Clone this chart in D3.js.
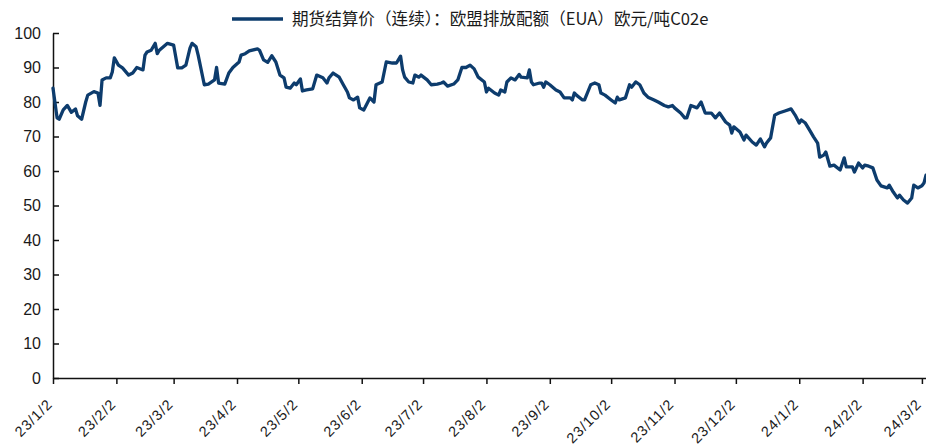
<!DOCTYPE html>
<html>
<head>
<meta charset="utf-8">
<script src="https://cdn.jsdelivr.net/npm/d3@7/dist/d3.min.js"></script>
<style>
    body { margin: 0; background: #fff; }
    svg { display: block; }
</style>
</head>
<body>
<div class="chart-container"></div>
<script>
// EUA futures settlement price (continuous), EUR / t CO2e

const seriesName = "期货结算价（连续）：欧盟排放配额（EUA）欧元/吨C02e";

const tickLabels = ["23/1/2", "23/2/2", "23/3/2", "23/4/2", "23/5/2", "23/6/2", "23/7/2",
    "23/8/2", "23/9/2", "23/10/2", "23/11/2", "23/12/2", "24/1/2", "24/2/2", "24/3/2"];

const yTicks = [0, 10, 20, 30, 40, 50, 60, 70, 80, 90, 100];

const dates = [
    "2023-01-02", "2023-01-04", "2023-01-05", "2023-01-07", "2023-01-09", "2023-01-11", "2023-01-13",
    "2023-01-14", "2023-01-16", "2023-01-18", "2023-01-19", "2023-01-22", "2023-01-24", "2023-01-25",
    "2023-01-26", "2023-01-28", "2023-01-30", "2023-01-31", "2023-02-01", "2023-02-03", "2023-02-05",
    "2023-02-08", "2023-02-10", "2023-02-12", "2023-02-15", "2023-02-16", "2023-02-17", "2023-02-19",
    "2023-02-21", "2023-02-22", "2023-02-23", "2023-02-26", "2023-02-27", "2023-03-02", "2023-03-04",
    "2023-03-06", "2023-03-08", "2023-03-10", "2023-03-11", "2023-03-13", "2023-03-14", "2023-03-17",
    "2023-03-19", "2023-03-22", "2023-03-23", "2023-03-24", "2023-03-27", "2023-03-29", "2023-03-31",
    "2023-04-03", "2023-04-04", "2023-04-06", "2023-04-08", "2023-04-12", "2023-04-13", "2023-04-15",
    "2023-04-17", "2023-04-19", "2023-04-21", "2023-04-23", "2023-04-25", "2023-04-26", "2023-04-28",
    "2023-04-30", "2023-05-01", "2023-05-03", "2023-05-04", "2023-05-06", "2023-05-09", "2023-05-11",
    "2023-05-14", "2023-05-16", "2023-05-17", "2023-05-19", "2023-05-22", "2023-05-24", "2023-05-26",
    "2023-05-27", "2023-05-29", "2023-05-31", "2023-06-01", "2023-06-03", "2023-06-05", "2023-06-06",
    "2023-06-08", "2023-06-09", "2023-06-12", "2023-06-14", "2023-06-17", "2023-06-19", "2023-06-21",
    "2023-06-22", "2023-06-23", "2023-06-25", "2023-06-27", "2023-06-28", "2023-06-30", "2023-07-01",
    "2023-07-04", "2023-07-06", "2023-07-09", "2023-07-11", "2023-07-12", "2023-07-14", "2023-07-17",
    "2023-07-19", "2023-07-21", "2023-07-23", "2023-07-25", "2023-07-27", "2023-07-29", "2023-08-01",
    "2023-08-02", "2023-08-03", "2023-08-06", "2023-08-08", "2023-08-09", "2023-08-11", "2023-08-12",
    "2023-08-14", "2023-08-16", "2023-08-18", "2023-08-19", "2023-08-22", "2023-08-23", "2023-08-24",
    "2023-08-25", "2023-08-28", "2023-08-29", "2023-08-30", "2023-08-31", "2023-09-02", "2023-09-05",
    "2023-09-07", "2023-09-09", "2023-09-12", "2023-09-13", "2023-09-14", "2023-09-15", "2023-09-18",
    "2023-09-19", "2023-09-22", "2023-09-24", "2023-09-26", "2023-09-27", "2023-09-29", "2023-10-02",
    "2023-10-04", "2023-10-05", "2023-10-06", "2023-10-09", "2023-10-11", "2023-10-12", "2023-10-14",
    "2023-10-16", "2023-10-18", "2023-10-20", "2023-10-23", "2023-10-25", "2023-10-28", "2023-10-30",
    "2023-11-01", "2023-11-02", "2023-11-05", "2023-11-07", "2023-11-08", "2023-11-10", "2023-11-13",
    "2023-11-15", "2023-11-17", "2023-11-20", "2023-11-22", "2023-11-24", "2023-11-27", "2023-11-29",
    "2023-11-30", "2023-12-01", "2023-12-04", "2023-12-06", "2023-12-07", "2023-12-10", "2023-12-12",
    "2023-12-14", "2023-12-16", "2023-12-17", "2023-12-19", "2023-12-21", "2023-12-23", "2023-12-26",
    "2023-12-29", "2023-12-31", "2024-01-02", "2024-01-03", "2024-01-05", "2024-01-07", "2024-01-09",
    "2024-01-11", "2024-01-12", "2024-01-14", "2024-01-15", "2024-01-17", "2024-01-19", "2024-01-22",
    "2024-01-24", "2024-01-25", "2024-01-28", "2024-01-29", "2024-01-31", "2024-02-02", "2024-02-03",
    "2024-02-05", "2024-02-07", "2024-02-09", "2024-02-11", "2024-02-14", "2024-02-15", "2024-02-17",
    "2024-02-19", "2024-02-20", "2024-02-22", "2024-02-24", "2024-02-26", "2024-02-27", "2024-02-29",
    "2024-03-02", "2024-03-03", "2024-03-04"
];

const prices = [
    84.0, 75.4, 75.0, 77.7, 79.0, 77.0, 78.0,
    76.0, 75.0, 80.0, 82.0, 83.0, 82.6, 79.0,
    86.4, 87.0, 87.0, 88.7, 92.8, 90.7, 89.9,
    87.8, 88.4, 90.0, 89.3, 93.6, 94.5, 95.0,
    97.0, 94.0, 95.0, 96.5, 97.0, 96.5, 89.9,
    89.9, 90.7, 95.6, 97.0, 96.0, 93.6, 85.0,
    85.2, 86.4, 90.0, 85.5, 85.2, 88.4, 90.0,
    91.6, 93.6, 94.0, 94.8, 95.4, 95.0, 92.2,
    91.5, 93.4, 91.6, 87.8, 87.0, 84.3, 84.0,
    85.5, 85.0, 86.7, 83.2, 83.5, 83.8, 87.8,
    87.0, 85.5, 87.0, 88.4, 87.2, 85.0, 82.9,
    81.2, 80.6, 81.4, 78.3, 77.7, 80.0, 81.2,
    80.0, 85.0, 85.8, 91.6, 91.3, 91.3, 93.3,
    89.3, 87.2, 85.8, 85.5, 87.8, 87.2, 87.8,
    86.4, 85.0, 85.2, 85.5, 85.8, 84.6, 85.2,
    86.4, 90.0, 90.0, 90.7, 89.6, 87.2, 85.8,
    82.9, 84.0, 82.6, 82.0, 83.5, 82.9, 85.8,
    87.0, 86.4, 88.0, 87.2, 87.0, 89.3, 85.8,
    85.0, 85.5, 85.5, 84.3, 85.8, 85.0, 83.5,
    82.9, 81.2, 81.2, 80.6, 82.6, 82.0, 80.6,
    80.6, 85.0, 85.5, 85.0, 82.6, 82.0, 80.6,
    79.7, 81.4, 80.6, 81.2, 85.0, 84.3, 85.8,
    85.0, 82.6, 81.4, 80.6, 80.0, 79.0, 78.6,
    79.0, 78.3, 76.8, 75.4, 75.4, 79.0, 78.3,
    80.0, 76.8, 76.8, 75.4, 76.8, 74.2, 73.3,
    71.0, 72.8, 71.3, 69.0, 70.4, 68.4, 67.5,
    69.3, 67.0, 68.1, 69.6, 76.2, 76.8, 77.4,
    78.0, 76.2, 73.9, 74.8, 73.9, 71.9, 69.9,
    68.1, 64.0, 64.6, 65.5, 61.4, 61.7, 60.3,
    63.8, 61.2, 61.2, 59.7, 62.3, 60.9, 61.7,
    61.4, 60.9, 57.4, 55.7, 55.1, 55.9, 53.9,
    52.2, 53.0, 51.6, 50.7, 52.2, 55.9, 55.1,
    55.7, 56.5, 58.8
];

const width = 926;
const height = 448;
const margin = { top: 33, right: 0, bottom: 70, left: 53 };
const lineColor = "#0d3c6d";

const parseDate = d3.timeParse("%Y-%m-%d");
const parseTick = d3.timeParse("%y/%m/%d");

const data = dates.map((d, i) => ({ date: parseDate(d), value: prices[i] }));
const tickDates = tickLabels.map(t => parseTick(t));

const svg = d3.select(".chart-container").append("svg")
    .attr("width", width)
    .attr("height", height);

const x = d3.scaleTime()
    .domain([parseDate("2023-01-02"), parseDate("2024-03-04")])
    .range([margin.left, width - margin.right]);

const y = d3.scaleLinear()
    .domain([0, 100])
    .range([height - margin.bottom, margin.top]);

// y axis, ticks pointing into the plot
const yAxis = svg.append("g")
    .attr("transform", `translate(${margin.left},0)`)
    .call(d3.axisLeft(y)
        .tickValues(yTicks)
        .tickSizeInner(-6)
        .tickSizeOuter(0)
        .tickPadding(12));

// x axis with rotated date labels
const xAxis = svg.append("g")
    .attr("transform", `translate(0,${height - margin.bottom})`)
    .call(d3.axisBottom(x)
        .tickValues(tickDates)
        .tickFormat((d, i) => tickLabels[i])
        .tickSizeInner(6)
        .tickSizeOuter(0));

xAxis.selectAll("text")
    .attr("x", null)
    .attr("y", null)
    .attr("dy", null)
    .attr("transform", "translate(0,27) rotate(-45)")
    .style("text-anchor", "end")
    .style("font-size", "14.5px")
    .style("letter-spacing", "1px");

yAxis.selectAll("text").style("font-size", "16px");

svg.selectAll(".domain, .tick line")
    .attr("stroke", "#111")
    .attr("stroke-width", 1.5);

svg.selectAll(".tick text")
    .attr("fill", "#1a1a1a")
    .style("font-family", "'Liberation Sans', Arial, sans-serif");

const line = d3.line()
    .x(d => x(d.date))
    .y(d => y(d.value));

svg.append("path")
    .datum(data)
    .attr("fill", "none")
    .attr("stroke", lineColor)
    .attr("stroke-width", 3.3)
    .attr("stroke-linejoin", "round")
    .attr("stroke-linecap", "round")
    .attr("d", line);

// legend
const legend = svg.append("g").attr("class", "legend");

legend.append("line")
    .attr("x1", 232).attr("x2", 283)
    .attr("y1", 19).attr("y2", 19)
    .attr("stroke", lineColor)
    .attr("stroke-width", 3.5);

legend.append("text")
    .attr("x", 292)
    .attr("y", 25)
    .attr("fill", "#1a1a1a")
    .style("font-family", "'Noto Sans CJK SC', sans-serif")
    .style("font-size", "16.6px")
    .text(seriesName);
</script>
</body>
</html>
